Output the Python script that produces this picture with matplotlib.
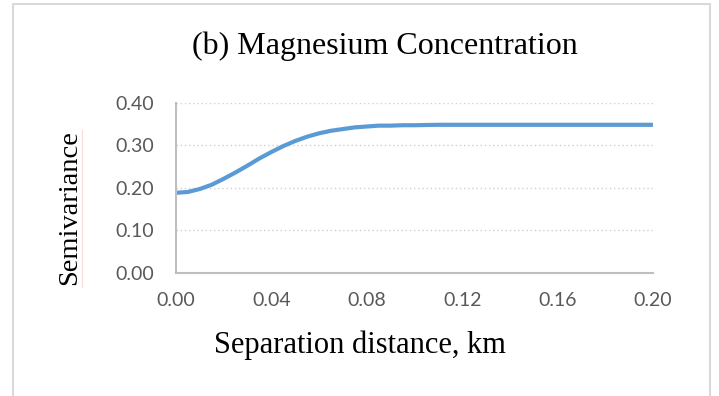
import matplotlib.pyplot as plt
from matplotlib.patches import Rectangle
from matplotlib.lines import Line2D

# semivariogram curve
dist = [0.000, 0.005, 0.010, 0.015, 0.020, 0.025, 0.030, 0.035, 0.040, 0.045,
        0.050, 0.055, 0.060, 0.065, 0.070, 0.075, 0.080, 0.085, 0.090, 0.095,
        0.100, 0.110, 0.120, 0.140, 0.160, 0.180, 0.200]
semivar = [0.188, 0.190, 0.197, 0.207, 0.221, 0.236, 0.252, 0.269, 0.284, 0.298,
           0.310, 0.320, 0.328, 0.334, 0.338, 0.342, 0.344, 0.346, 0.346, 0.347,
           0.347, 0.348, 0.348, 0.348, 0.348, 0.348, 0.348]
xticks = [0.00, 0.04, 0.08, 0.12, 0.16, 0.20]
yticks = [0.00, 0.10, 0.20, 0.30, 0.40]

W, H = 719, 396
fig = plt.figure(figsize=(W / 100, H / 100), dpi=100)
ax = fig.add_axes([176 / W, 1 - 272.7 / H, (653 - 176) / W, 170 / H])

ax.plot(dist, semivar, color='#5b9bd5', lw=3, solid_capstyle='butt')

ax.set_xlim(0, 0.2)
ax.set_ylim(0, 0.4)
ax.set_xticks(xticks)
ax.set_yticks(yticks)
ax.set_xticklabels(['%.2f' % v for v in xticks])
ax.set_yticklabels(['%.2f' % v for v in yticks])
ax.tick_params(length=0, labelsize=14, labelcolor='#595959')
for lab in ax.get_xticklabels() + ax.get_yticklabels():
    lab.set_fontfamily('Lato')
ax.tick_params(axis='x', pad=14)
ax.tick_params(axis='y', pad=16)

ax.grid(axis='y', color='#d0d0d0', lw=1.0, ls=(0, (1, 2)))
ax.set_axisbelow(True)
for s in ['top', 'right']:
    ax.spines[s].set_visible(False)
for s in ['left', 'bottom']:
    ax.spines[s].set_color('#bfbfbf')
    ax.spines[s].set_linewidth(1.5)

serif = 'Liberation Serif'
fig.text(385 / W, 1 - 46 / H, '(b) Magnesium Concentration', family=serif,
         fontsize=23, ha='center', va='center')
fig.text(360 / W, 1 - 345 / H, 'Separation distance, km', family=serif,
         fontsize=22, ha='center', va='center')
fig.text(70 / W, 1 - 208 / H, 'Semivariance', family=serif, fontsize=20.5,
         rotation=90, ha='center', va='center')

# spell-check underline next to the y label
fig.add_artist(Line2D([81.7 / W, 81.7 / W], [1 - 130 / H, 1 - 287 / H],
                      color='#f8dcdc', lw=0.8))

# outer chart border
fig.add_artist(Rectangle((12.5 / W, -0.05), (710 - 12.5) / W, 1 - 4 / H + 0.05,
                         fill=False, edgecolor='#d9d9d9', lw=1.5))

fig.savefig('out.png', dpi=100)
